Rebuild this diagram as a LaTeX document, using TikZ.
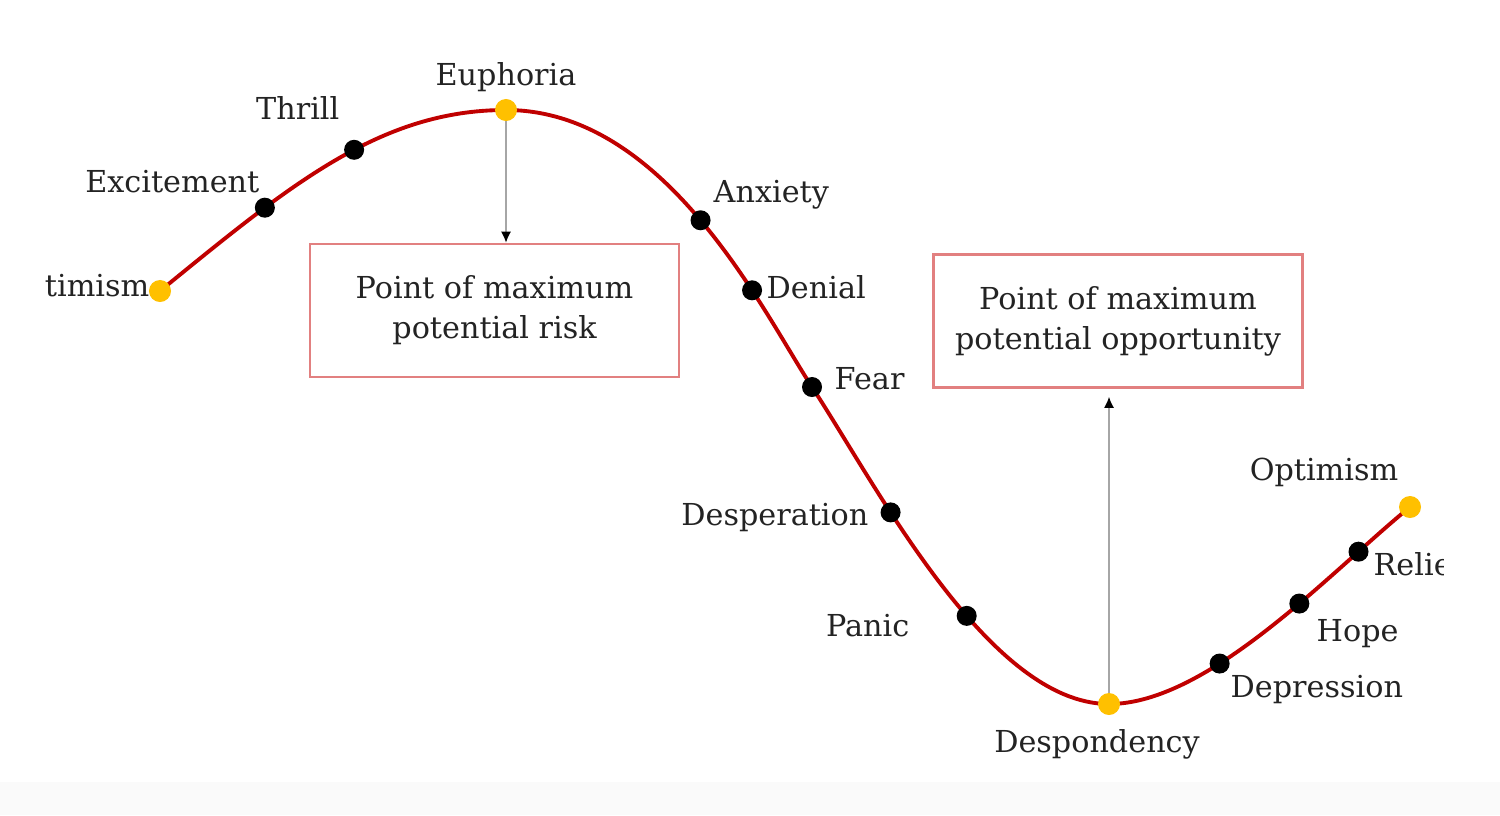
\documentclass[tikz,border=0pt]{standalone}
\usepackage{fontspec}
\setmainfont{DejaVu Serif}
\usepackage{xcolor}
\usetikzlibrary{arrows.meta, positioning, backgrounds}

\definecolor{curvered}{RGB}{192,0,0}
\definecolor{peakyellow}{RGB}{255,192,0}
\definecolor{boxred}{RGB}{226,128,128}
\definecolor{txtgray}{RGB}{35,35,35}

\begin{document}
\begin{tikzpicture}[
  x=0.01cm, y=-0.01cm,
  phase/.style={font=\fontsize{8.6}{11.4}\selectfont, text=txtgray, inner sep=0pt},
  dot/.style={circle, fill=black, inner sep=0pt, minimum size=0.2cm},
  turn/.style={circle, fill=peakyellow, inner sep=0pt, minimum size=0.22cm},
  callout/.style={rectangle, draw=boxred, line width=0.7pt, minimum width=3.69cm,
                  minimum height=1.33cm, align=center, text=txtgray,
                  font=\fontsize{8.6}{11.4}\selectfont},
  pointer/.style={draw=black!35, line width=0.45pt, -{Latex[color=black,length=0.11cm,width=0.1cm]}},
  curve/.style={draw=curvered, line width=1.1pt}
]
\useasboundingbox (0,0) rectangle (1500,815);
\fill[black!2] (0,782) rectangle (1500,815);

\begin{scope}
\clip (45,0) rectangle (1443,815);

% turning points
\node[turn] (opt1) at (160,291) {};
\node[turn] (eup)  at (506,110) {};
\node[dot]  (fea)  at (812,387) {};
\node[turn] (dsy)  at (1109,704) {};
\node[turn] (opt2) at (1410,507) {};

% labels
\node[phase, anchor=base east] (lopt1) at (150,296) {Optimism};
\node[phase, anchor=base east] (lexc)  at (260,192) {Excitement};
\node[phase, anchor=base east] (lthr)  at (340,120) {Thrill};
\node[phase, anchor=base]      (leup)  at (506,85)  {Euphoria};
\node[phase, anchor=base west] (lanx)  at (713,202) {Anxiety};
\node[phase, anchor=base west] (lden)  at (766,298) {Denial};
\node[phase, anchor=base west] (lfea)  at (834,389) {Fear};
\node[phase, anchor=base east] (ldesp) at (869,525) {Desperation};
\node[phase, anchor=base east] (lpan)  at (910,636) {Panic};
\node[phase, anchor=base]      (ldsy)  at (1097,752) {Despondency};
\node[phase, anchor=base west] (ldep)  at (1230,697) {Depression};
\node[phase, anchor=base west] (lhop)  at (1316,641) {Hope};
\node[phase, anchor=base west] (lrel)  at (1373,575) {Relief};
\node[phase, anchor=base]      (lopt2) at (1324,480) {Optimism};

% callouts
\node[callout] (risk) at (494.5,310.5) {Point of maximum\\potential risk};
\node[callout] (opp)  at (1118,321) {Point of maximum\\potential opportunity};

\begin{scope}[on background layer]
\draw[pointer] (eup.center) -- (eup.center |- risk.north);
\draw[pointer, shorten >=0.08cm] (dsy.center) -- (dsy.center |- opp.south);
% the cycle, with the stages sitting on it
\draw[curve] (opt1.center)
  .. controls (290,185) and (380,110) ..
     node[dot, pos=0.29] (exc) {} node[dot, pos=0.56] (thr) {} (eup.center)
  .. controls (666,110) and (762.8,311.7) ..
     node[dot, pos=0.5] (anx) {} node[dot, pos=0.69] (den) {} (fea.center)
  .. controls (877.6,487.4) and (989,704) ..
     node[dot, pos=0.33] (desp) {} node[dot, pos=0.585] (pan) {} (dsy.center)
  .. controls (1209,704) and (1332.4,570) ..
     node[dot, pos=0.35] (dep) {} node[dot, pos=0.6] (hop) {} node[dot, pos=0.8] (rel) {} (opt2.center);
\end{scope}
\end{scope}
\end{tikzpicture}
\end{document}
